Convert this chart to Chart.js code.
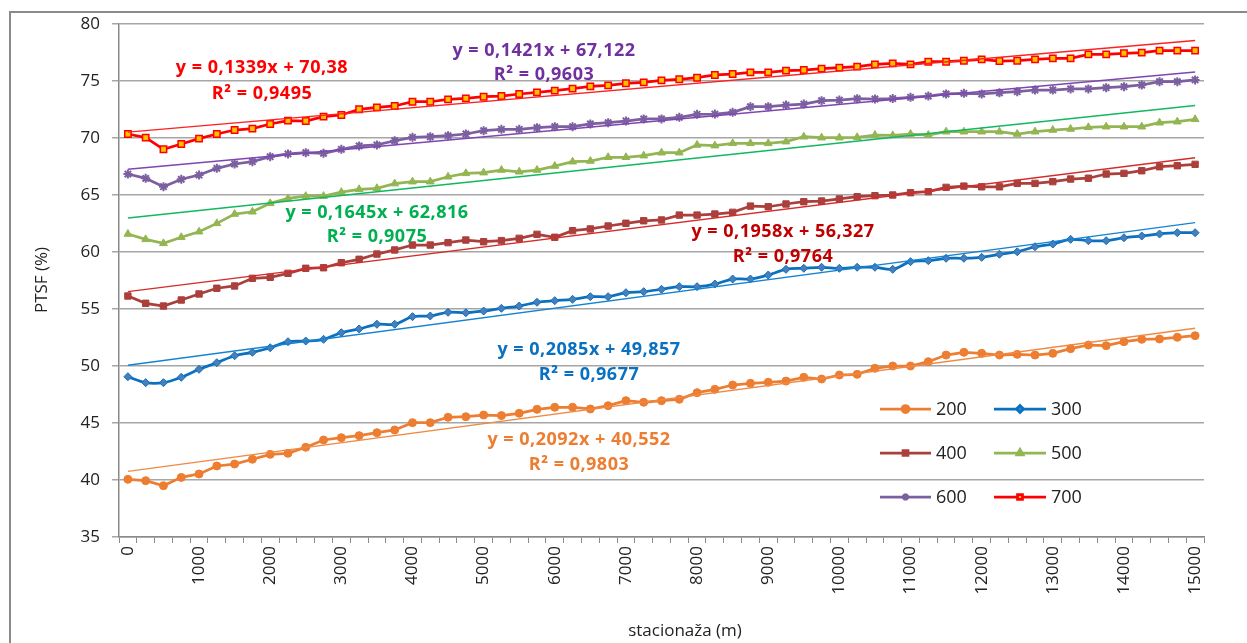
<!DOCTYPE html>
<html lang="sr">
<head>
    <meta charset="UTF-8">
    <title>PTSF - stacionaža</title>
    <style>
        html, body {
            margin: 0;
            padding: 0;
            background-color: #ffffff;
        }
        .chart-container {
            position: relative;
            width: 1247px;
            height: 643px;
        }
    </style>
    <script src="https://cdn.jsdelivr.net/npm/chart.js"></script>
</head>
<body>
    <div class="chart-container">
        <canvas id="ptsfChart"></canvas>
    </div>

    <script>
        // stacionaža (m), one category every 250 m
        const stations = [0, 250, 500, 750, 1000, 1250, 1500, 1750, 2000, 2250, 2500, 2750, 3000, 3250, 3500, 3750,
            4000, 4250, 4500, 4750, 5000, 5250, 5500, 5750, 6000, 6250, 6500, 6750, 7000, 7250, 7500, 7750,
            8000, 8250, 8500, 8750, 9000, 9250, 9500, 9750, 10000, 10250, 10500, 10750, 11000, 11250, 11500, 11750,
            12000, 12250, 12500, 12750, 13000, 13250, 13500, 13750, 14000, 14250, 14500, 14750, 15000];

        // PTSF (%) per series
        const ptsf200 = [40.06, 39.94, 39.5, 40.23, 40.53, 41.23, 41.4, 41.82, 42.25, 42.34, 42.87, 43.51, 43.71, 43.89, 44.15, 44.39,
            45.03, 45.03, 45.5, 45.55, 45.7, 45.65, 45.85, 46.2, 46.38, 46.38, 46.23, 46.52, 46.96, 46.82, 46.96, 47.08,
            47.66, 47.95, 48.33, 48.48, 48.57, 48.68, 49.01, 48.86, 49.21, 49.27, 49.8, 50.0, 50.0, 50.38, 50.96, 51.2,
            51.11, 50.96, 51.02, 50.96, 51.11, 51.52, 51.84, 51.78, 52.13, 52.34, 52.37, 52.52, 52.66];
        const ptsf300 = [49.06, 48.54, 48.54, 49.01, 49.71, 50.29, 50.9, 51.2, 51.6, 52.13, 52.19, 52.34, 52.92, 53.25, 53.66, 53.66,
            54.33, 54.39, 54.71, 54.67, 54.82, 55.06, 55.26, 55.59, 55.73, 55.85, 56.08, 56.08, 56.43, 56.52, 56.73, 56.96,
            56.96, 57.19, 57.63, 57.63, 57.98, 58.48, 58.57, 58.66, 58.57, 58.66, 58.66, 58.48, 59.15, 59.24, 59.45, 59.45,
            59.53, 59.8, 60.02, 60.46, 60.7, 61.11, 60.99, 60.99, 61.25, 61.4, 61.58, 61.69, 61.69];
        const ptsf400 = [56.14, 55.5, 55.26, 55.79, 56.32, 56.82, 57.02, 57.69, 57.78, 58.13, 58.57, 58.62, 59.06, 59.36, 59.82, 60.18,
            60.61, 60.61, 60.82, 61.05, 60.9, 61.0, 61.2, 61.55, 61.29, 61.87, 62.02, 62.28, 62.52, 62.74, 62.81, 63.24,
            63.24, 63.33, 63.48, 64.03, 63.97, 64.21, 64.41, 64.47, 64.65, 64.85, 64.94, 65.0, 65.2, 65.29, 65.67, 65.78,
            65.72, 65.72, 66.02, 66.02, 66.17, 66.4, 66.47, 66.84, 66.9, 67.13, 67.48, 67.57, 67.69];
        const ptsf500 = [61.58, 61.11, 60.76, 61.29, 61.78, 62.51, 63.33, 63.53, 64.27, 64.7, 64.9, 64.9, 65.25, 65.5, 65.59, 66.0,
            66.17, 66.17, 66.6, 66.9, 66.96, 67.19, 67.04, 67.19, 67.54, 67.92, 67.98, 68.31, 68.31, 68.45, 68.71, 68.71,
            69.39, 69.33, 69.53, 69.53, 69.53, 69.68, 70.11, 70.03, 70.03, 70.06, 70.26, 70.23, 70.35, 70.26, 70.55, 70.55,
            70.55, 70.55, 70.35, 70.55, 70.7, 70.79, 70.94, 70.99, 70.99, 70.99, 71.34, 71.43, 71.64];
        const ptsf600 = [66.84, 66.46, 65.73, 66.38, 66.75, 67.34, 67.72, 67.92, 68.36, 68.6, 68.71, 68.66, 69.01, 69.3, 69.39, 69.76,
            70.06, 70.11, 70.2, 70.35, 70.64, 70.76, 70.76, 70.9, 70.99, 70.99, 71.23, 71.34, 71.49, 71.67, 71.67, 71.81,
            72.08, 72.1, 72.25, 72.75, 72.75, 72.89, 72.98, 73.27, 73.33, 73.45, 73.42, 73.46, 73.57, 73.68, 73.86, 73.92,
            73.86, 73.97, 74.06, 74.21, 74.21, 74.3, 74.3, 74.41, 74.5, 74.65, 74.94, 74.94, 75.09];
        const ptsf700 = [70.35, 70.03, 69.01, 69.47, 69.94, 70.35, 70.7, 70.82, 71.23, 71.52, 71.49, 71.87, 72.02, 72.52, 72.69, 72.81,
            73.18, 73.18, 73.39, 73.48, 73.62, 73.68, 73.86, 74.0, 74.15, 74.33, 74.53, 74.62, 74.8, 74.88, 75.06, 75.15,
            75.29, 75.53, 75.61, 75.76, 75.76, 75.91, 75.96, 76.08, 76.17, 76.26, 76.46, 76.55, 76.46, 76.69, 76.69, 76.78,
            76.9, 76.75, 76.78, 76.9, 76.99, 76.99, 77.34, 77.34, 77.43, 77.49, 77.66, 77.66, 77.66];

        // linear trend lines (x = category number 1..61), as printed on the chart
        const seriesNames = ['200', '300', '400', '500', '600', '700'];
        const trendSlopes = [0.2092, 0.2085, 0.1958, 0.1645, 0.1421, 0.1339];
        const trendIntercepts = [40.552, 49.857, 56.327, 62.816, 67.122, 70.38];
        const trendEquations = ['y = 0,2092x + 40,552', 'y = 0,2085x + 49,857', 'y = 0,1958x + 56,327',
            'y = 0,1645x + 62,816', 'y = 0,1421x + 67,122', 'y = 0,1339x + 70,38'];
        const trendR2 = ['R² = 0,9803', 'R² = 0,9677', 'R² = 0,9764', 'R² = 0,9075', 'R² = 0,9603', 'R² = 0,9495'];

        const yTicks = [35, 40, 45, 50, 55, 60, 65, 70, 75, 80];

        const allSeries = [ptsf200, ptsf300, ptsf400, ptsf500, ptsf600, ptsf700];
        const lineColors = ['#ed7d31', '#0a70c0', '#ab3f3c', '#93b552', '#7c5fa0', '#ff0000'];
        const pointFills = ['#ed7d31', '#4a7ebb', '#ab3f3c', '#93b552', '#7c5fa0', '#ffc000'];
        const pointStyles = ['circle', 'rectRot', 'rect', 'triangle', 'star', 'rect'];
        const pointSizes = [4, 4, 4.5, 4.5, 4.5, 4.5];
        const trendColors = ['#ee8a45', '#1683d0', '#d42b2b', '#10b860', '#7f45b0', '#ff2020'];
        const labelColors = ['#ed7d31', '#0a70c0', '#c00000', '#00b050', '#7030a0', '#ff0000'];
        // label centres (eq line, R² line)
        const labelPos = [[579, 440, 465], [589, 350, 375], [783, 232, 257], [377, 213, 237], [544, 51, 75], [262, 68, 94]];

        const datasets = [];
        allSeries.forEach((values, i) => {
            datasets.push({
                label: seriesNames[i],
                data: values,
                borderColor: lineColors[i],
                backgroundColor: pointFills[i],
                pointBackgroundColor: pointFills[i],
                pointBorderColor: i === 5 ? '#ff0000' : lineColors[i],
                pointBorderWidth: i === 5 ? 1.5 : (i === 4 ? 2 : 1),
                pointStyle: pointStyles[i],
                pointRadius: pointSizes[i],
                borderWidth: 2.75,
                tension: i === 1 ? 0.35 : 0,
                order: 2
            });
        });
        allSeries.forEach((values, i) => {
            const trend = values.map(() => null);
            trend[0] = trendSlopes[i] * 1 + trendIntercepts[i];
            trend[values.length - 1] = trendSlopes[i] * values.length + trendIntercepts[i];
            datasets.push({
                label: 'trend ' + seriesNames[i],
                data: trend,
                borderColor: trendColors[i],
                borderWidth: 1.4,
                pointRadius: 0,
                spanGaps: true,
                order: 1
            });
        });

        const extrasPlugin = {
            id: 'extras',
            beforeDraw(chart) {
                const ctx = chart.ctx;
                ctx.save();
                ctx.strokeStyle = '#8a8a8a';
                ctx.lineWidth = 2;
                ctx.strokeRect(10, 12, 1260, 660);
                ctx.restore();
            },
            afterDraw(chart) {
                const ctx = chart.ctx;
                ctx.save();
                // axis titles
                ctx.fillStyle = '#222222';
                ctx.font = '17px "Open Sans"';
                ctx.textAlign = 'center';
                ctx.textBaseline = 'middle';
                ctx.fillText('stacionaža (m)', 685, 631);
                ctx.save();
                ctx.translate(42, 280);
                ctx.rotate(-Math.PI / 2);
                ctx.fillText('PTSF (%)', 0, 0);
                ctx.restore();

                // trend equations
                ctx.font = 'bold 18px "Open Sans"';
                ctx.letterSpacing = '0.5px';
                labelPos.forEach((p, i) => {
                    ctx.fillStyle = labelColors[i];
                    ctx.fillText(trendEquations[i], p[0], p[1]);
                    ctx.fillText(trendR2[i], p[0], p[2]);
                });
                ctx.letterSpacing = '0px';

                // legend
                const cols = [[880, 931, 936], [994, 1046, 1051]];
                const rows = [409, 453, 497];
                ctx.font = '18px "Open Sans"';
                ctx.textAlign = 'left';
                for (let i = 0; i < seriesNames.length; i++) {
                    const c = cols[i % 2];
                    const y = rows[Math.floor(i / 2)];
                    ctx.strokeStyle = lineColors[i];
                    ctx.lineWidth = 2.75;
                    ctx.beginPath();
                    ctx.moveTo(c[0], y);
                    ctx.lineTo(c[1], y);
                    ctx.stroke();
                    ctx.fillStyle = pointFills[i];
                    ctx.strokeStyle = i === 5 ? '#ff0000' : lineColors[i];
                    Chart.helpers.drawPoint(ctx, {
                        pointStyle: pointStyles[i],
                        radius: 3.5,
                        rotation: 0,
                        borderWidth: i === 5 ? 1.5 : (i === 4 ? 1.5 : 1)
                    }, (c[0] + c[1]) / 2, y);
                    ctx.fillStyle = '#222222';
                    ctx.fillText(seriesNames[i], c[2], y + 1);
                }
                ctx.restore();
            }
        };

        const ctx = document.getElementById('ptsfChart').getContext('2d');
        new Chart(ctx, {
            type: 'line',
            data: {
                labels: stations,
                datasets: datasets
            },
            options: {
                responsive: true,
                maintainAspectRatio: false,
                animation: false,
                layout: {
                    padding: { left: 0, top: 24, right: 43, bottom: 0 }
                },
                plugins: {
                    legend: { display: false },
                    tooltip: { enabled: false }
                },
                scales: {
                    x: {
                        type: 'category',
                        offset: true,
                        afterFit: (scale) => { scale.height = 106; },
                        grid: {
                            display: true,
                            drawOnChartArea: false,
                            drawTicks: true,
                            tickLength: 6,
                            offset: true,
                            color: '#8a8a8a'
                        },
                        border: { display: true, color: '#8a8a8a', width: 1.5 },
                        ticks: {
                            autoSkip: false,
                            minRotation: 90,
                            maxRotation: 90,
                            padding: 3,
                            color: '#222222',
                            font: { family: 'Open Sans', size: 17 },
                            callback: function (value, index) {
                                return index % 4 === 0 ? String(stations[index]) : '';
                            }
                        }
                    },
                    y: {
                        min: yTicks[0],
                        max: yTicks[yTicks.length - 1],
                        afterFit: (scale) => { scale.width = 119; },
                        afterBuildTicks: (scale) => {
                            scale.ticks = yTicks.map(v => ({ value: v }));
                        },
                        grid: {
                            color: '#a6a6a6',
                            lineWidth: 1.5,
                            drawTicks: true,
                            tickLength: 7
                        },
                        border: { display: true, color: '#8a8a8a', width: 1.5 },
                        ticks: {
                            padding: 12,
                            color: '#222222',
                            font: { family: 'Open Sans', size: 17 }
                        }
                    }
                }
            },
            plugins: [extrasPlugin]
        });
    </script>
</body>
</html>
